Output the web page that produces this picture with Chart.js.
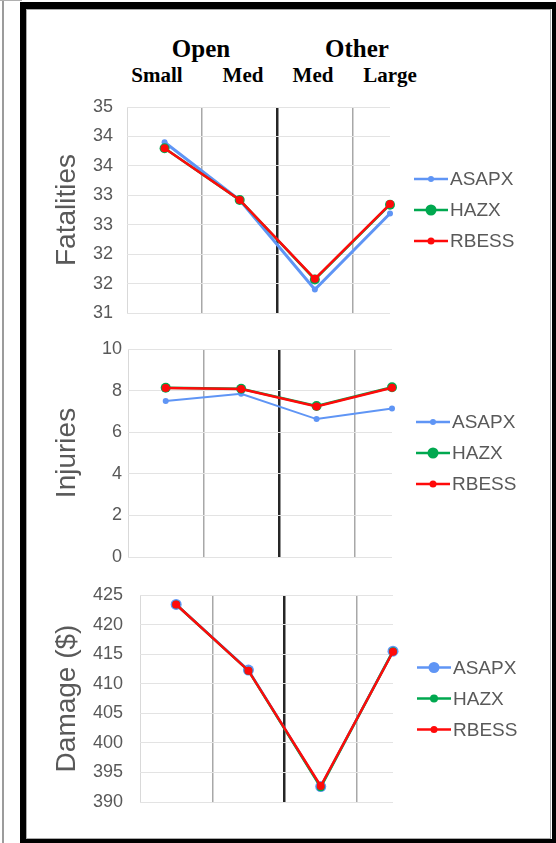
<!DOCTYPE html>
<html>
<head>
<meta charset="utf-8">
<script src="https://cdn.jsdelivr.net/npm/chart.js@4.4.1/dist/chart.umd.min.js"></script>
<style>
  body { margin: 0; background: #fff; }
  #page { position: relative; width: 556px; height: 843px; overflow: hidden; background: #fff; }
  .abs { position: absolute; }
  #sideLine { left: 2px; top: 0; width: 2px; height: 843px; background: #9c9c9c; }
  #topLine { left: 0; top: 0; width: 22px; height: 1px; background: #b0b0b0; }
  #frame { left: 20px; top: 2px; width: 538px; height: 843px; box-sizing: border-box;
           border-style: solid; border-color: #000; border-width: 7px 6px 6px 6px; }
  #inner { left: 26px; top: 9px; width: 525px; height: 830px; box-sizing: border-box; border: 1px solid #aaa; }
  .hdr { position: absolute; font-family: "Liberation Serif", "Times New Roman", serif; font-weight: bold;
         color: #000; line-height: 1; white-space: nowrap; transform: translateX(-50%); }
  canvas { position: absolute; left: 30px; }
</style>
</head>
<body>
<div id="page">
  <div class="abs" id="sideLine"></div>
  <div class="abs" id="topLine"></div>
  <div class="abs" id="frame"></div>
  <div class="abs" id="inner"></div>
  <div id="header"></div>
  <canvas id="fatal" width="515" height="230" style="top:95px"></canvas>
  <canvas id="injury" width="515" height="232" style="top:337px"></canvas>
  <canvas id="damage" width="515" height="231" style="top:583px"></canvas>
</div>
<script>
// groups and categories along the x axis
const groups = ['Open', 'Other'];
const categories = ['Small', 'Med', 'Med', 'Large'];
const xPos = [1, 2, 3, 4];
const dividers = [0.5, 1.5, 2.5, 3.5];

const series = ['ASAPX', 'HAZX', 'RBESS'];
const colors = ['#5f95f5', '#00a84f', '#ff0a0a'];

// Fatalities
const fatalASAPX = [33.9, 32.92, 31.4, 32.69];
const fatalHAZX = [33.8, 32.92, 31.57, 32.84];
const fatalRBESS = [33.8, 32.92, 31.58, 32.85];
const fatalTicks = ['31', '32', '32', '33', '33', '34', '34', '35'];

// Injuries
const injASAPX = [7.5, 7.85, 6.63, 7.14];
const injHAZX = [8.14, 8.09, 7.26, 8.16];
const injRBESS = [8.12, 8.08, 7.24, 8.14];
const injTicks = ['0', '2', '4', '6', '8', '10'];

// Damage ($)
const dmgASAPX = [423.4, 412.3, 392.6, 415.5];
const dmgHAZX = [423.4, 412.2, 392.5, 415.5];
const dmgRBESS = [423.4, 412.2, 392.7, 415.4];
const dmgTicks = ['390', '395', '400', '405', '410', '415', '420', '425'];

// header text (positions kept separate from the labels)
const header = document.getElementById('header');
const groupX = [201, 357];
const catX = [157, 243, 313, 390];
groups.forEach((g, i) => {
  const d = document.createElement('div');
  d.className = 'hdr';
  d.style.cssText = 'left:' + groupX[i] + 'px;top:36px;font-size:25px';
  d.textContent = g;
  header.appendChild(d);
});
categories.forEach((c, i) => {
  const d = document.createElement('div');
  d.className = 'hdr';
  d.style.cssText = 'left:' + catX[i] + 'px;top:65px;font-size:21px';
  d.textContent = c;
  header.appendChild(d);
});

const FONT = '"Liberation Sans", Arial, sans-serif';
const GRAY = '#595959';

// legend drawn as line + dot next to the plot
const sideLegend = {
  id: 'sideLegend',
  afterDraw(chart, args, opts) {
    const ctx = chart.ctx;
    const area = chart.chartArea;
    const cy = (area.top + area.bottom) / 2;
    const n = chart.data.datasets.length;
    ctx.save();
    chart.data.datasets.forEach((ds, i) => {
      const y = cy + (i - (n - 1) / 2) * opts.spacing;
      const x0 = area.right + opts.offset;
      ctx.strokeStyle = ds.borderColor;
      ctx.lineWidth = 2.5;
      ctx.beginPath();
      ctx.moveTo(x0, y);
      ctx.lineTo(x0 + opts.lineLen, y);
      ctx.stroke();
      ctx.fillStyle = ds.borderColor;
      ctx.beginPath();
      ctx.arc(x0 + opts.lineLen / 2, y, opts.dot[i], 0, Math.PI * 2);
      ctx.fill();
      ctx.fillStyle = GRAY;
      ctx.font = '19px ' + FONT;
      ctx.textBaseline = 'middle';
      ctx.fillText(ds.label, x0 + opts.lineLen + 2, y + 1);
    });
    ctx.restore();
  }
};

function makePanel(id, p) {
  return new Chart(document.getElementById(id), {
    type: 'line',
    data: {
      datasets: series.map((name, i) => ({
        label: name,
        data: p.values[i].map((v, j) => ({ x: xPos[j], y: v })),
        borderColor: colors[i],
        backgroundColor: colors[i],
        borderWidth: p.widths[i],
        pointRadius: p.radius[i],
        pointBorderWidth: 0,
        order: 2 - i,
        clip: false
      }))
    },
    options: {
      responsive: false,
      animation: false,
      layout: { padding: { left: 0, right: p.padRight, top: 12, bottom: 12 } },
      plugins: {
        legend: { display: false },
        tooltip: { enabled: false },
        sideLegend: { offset: 24, spacing: 31, lineLen: 34, dot: p.dot }
      },
      scales: {
        x: {
          type: 'linear',
          min: 0.5,
          max: 4,
          afterBuildTicks: s => { s.ticks = dividers.map(v => ({ value: v })); },
          afterFit: s => { s.height = 0; s.paddingLeft = 0; s.paddingRight = 0; },
          ticks: { display: false },
          border: { display: false },
          grid: {
            drawTicks: false,
            color: c => c.tick.value === 2.5 ? '#262626' : (c.tick.value === 0.5 ? '#d9d9d9' : '#a8a8a8'),
            lineWidth: c => c.tick.value === 2.5 ? 2.5 : (c.tick.value === 0.5 ? 1 : 1.5)
          }
        },
        y: {
          min: p.min,
          max: p.max,
          afterFit: s => { s.width = p.axisWidth; s.paddingTop = 0; s.paddingBottom = 0; },
          border: { display: false },
          grid: { drawTicks: false, color: '#e3e3e3', lineWidth: 1 },
          ticks: {
            stepSize: p.step,
            padding: p.tickPad,
            color: GRAY,
            font: { family: FONT, size: 18 },
            callback: (v, i) => p.ticks[i]
          },
          title: {
            display: true,
            text: p.title,
            color: GRAY,
            font: { family: FONT, size: 28 },
            padding: { top: 20, bottom: 0 }
          }
        }
      }
    },
    plugins: [sideLegend]
  });
}

makePanel('fatal', {
  values: [fatalASAPX, fatalHAZX, fatalRBESS],
  ticks: fatalTicks, min: 31, max: 34.5, step: 0.5,
  title: 'Fatalities', axisWidth: 97, padRight: 155, tickPad: 14,
  widths: [3, 2.5, 2.5], radius: [3, 5, 4], dot: [3, 5.5, 3.5]
});
makePanel('injury', {
  values: [injASAPX, injHAZX, injRBESS],
  ticks: injTicks, min: 0, max: 10, step: 2,
  title: 'Injuries', axisWidth: 98, padRight: 153, tickPad: 6,
  widths: [2, 2.5, 2.5], radius: [3, 5, 4], dot: [3, 5.5, 3.5]
});
makePanel('damage', {
  values: [dmgASAPX, dmgHAZX, dmgRBESS],
  ticks: dmgTicks, min: 390, max: 425, step: 5,
  title: 'Damage ($)', axisWidth: 110, padRight: 152, tickPad: 17,
  widths: [2.5, 2.5, 2.5], radius: [5.5, 4, 4], dot: [5.5, 4, 3.5]
});
</script>
</body>
</html>
